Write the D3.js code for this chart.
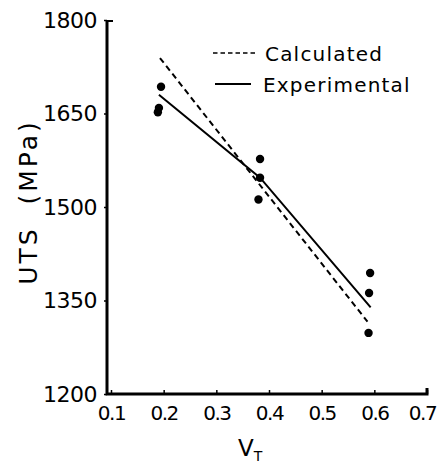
<!DOCTYPE html>
<html>
<head>
<meta charset="utf-8">
<script src="https://cdn.jsdelivr.net/npm/d3@7"></script>
<style>
  body { margin: 0; background: #fff; }
  text { font-family: "DejaVu Sans", sans-serif; fill: #000; }
</style>
</head>
<body>
<div id="main"></div>
<script>
//////////
// DATA //
//////////

const x_ticks = [0.1, 0.2, 0.3, 0.4, 0.5, 0.6, 0.7]
const x_tick_labels = ["0.1", "0.2", "0.3", "0.4", "0.5", "0.6", "0.7"]
const y_ticks = [1200, 1350, 1500, 1650, 1800]

// measured points
const vt_points  = [0.195, 0.189, 0.191, 0.383, 0.383, 0.380, 0.592, 0.590, 0.589]
const uts_points = [1693, 1652, 1659, 1577, 1547, 1512, 1394, 1362, 1298]

// calculated line (straight) and experimental line (through the mean of each group)
const calc_vt  = [0.193, 0.587]
const calc_uts = [1739, 1316]
const exp_vt   = [0.191, 0.383, 0.593]
const exp_uts  = [1680, 1547, 1339]

const legend_labels = ["Calculated", "Experimental"]


///////////
// SETUP //
///////////

const width = 438
const height = 466

const x = d3.scaleLinear().domain([0.1, 0.7]).range([111, 427])
const y = d3.scaleLinear().domain([1200, 1800]).range([394, 20])

const line = d3.line()
    .x(d => x(d[0]))
    .y(d => y(d[1]))

const svg = d3.select("#main").append("svg")
    .attr("width", width)
    .attr("height", height)


//////////
// DRAW //
//////////

// frame
svg.append("path")
    .attr("d", `M${x(0.1) - 4},${y(1800)}V${y(1200)}H${x(0.7)}V${y(1200) - 6}`)
    .attr("fill", "none")
    .attr("stroke", "#000")
    .attr("stroke-width", 3)

svg.append("line")
    .attr("x1", x(0.1) - 4).attr("x2", x(0.1) + 2)
    .attr("y1", y(1800) + 1).attr("y2", y(1800) + 1)
    .attr("stroke", "#000").attr("stroke-width", 2)

// x axis
const x_axis = svg.append("g")
    .attr("transform", `translate(0,${y(1200)})`)
    .call(d3.axisBottom(x)
        .tickValues(x_ticks)
        .tickFormat((d, i) => x_tick_labels[i])
        .tickSizeInner(-4)
        .tickSizeOuter(0)
        .tickPadding(12))
x_axis.select(".domain").remove()
x_axis.selectAll("line").attr("stroke-width", 1.5)
x_axis.selectAll("text")
    .style("font-size", "20px")
    .style("letter-spacing", "-1.5px")
    .attr("dx", d => d === 0.7 ? -5 : 0)

// y axis
const y_axis = svg.append("g")
    .attr("transform", `translate(${x(0.1) - 4},0)`)
    .call(d3.axisLeft(y)
        .tickValues(y_ticks)
        .tickFormat(d3.format("d"))
        .tickSizeInner(3)
        .tickSizeOuter(0)
        .tickPadding(7))
y_axis.select(".domain").remove()
y_axis.selectAll("line").attr("stroke-width", 1.5)
y_axis.selectAll("text")
    .style("font-size", "22px")
    .style("letter-spacing", "-0.5px")

// axis titles
svg.append("text")
    .attr("transform", `translate(37,${(y(1800) + y(1200)) / 2 - 5}) rotate(-90)`)
    .attr("text-anchor", "middle")
    .style("font-size", "25px")
    .style("letter-spacing", "3px")
    .style("white-space", "pre")
    .text("UTS  (MPa)")

const vt = svg.append("text")
    .attr("x", 238)
    .attr("y", 456)
    .style("font-size", "23px")
vt.append("tspan").text("V")
vt.append("tspan")
    .attr("dx", 0)
    .attr("dy", 5)
    .style("font-size", "14px")
    .text("T")

// fitted lines
svg.append("path")
    .datum(d3.zip(calc_vt, calc_uts))
    .attr("d", line)
    .attr("fill", "none")
    .attr("stroke", "#000")
    .attr("stroke-width", 2)
    .attr("stroke-dasharray", "6,4")

svg.append("path")
    .datum(d3.zip(exp_vt, exp_uts))
    .attr("d", line)
    .attr("fill", "none")
    .attr("stroke", "#000")
    .attr("stroke-width", 2)

// points
svg.selectAll("circle.pt")
    .data(d3.zip(vt_points, uts_points))
    .enter().append("circle")
        .attr("class", "pt")
        .attr("cx", d => x(d[0]))
        .attr("cy", d => y(d[1]))
        .attr("r", 4.2)
        .attr("fill", "#000")

// legend
const legend = svg.append("g")
legend.append("line")
    .attr("x1", 213).attr("x2", 257)
    .attr("y1", 53).attr("y2", 53)
    .attr("stroke", "#000").attr("stroke-width", 1.5)
    .attr("stroke-dasharray", "4.5,3")
legend.append("line")
    .attr("x1", 215).attr("x2", 251)
    .attr("y1", 84).attr("y2", 84)
    .attr("stroke", "#000").attr("stroke-width", 2)
legend.selectAll("text")
    .data(legend_labels)
    .enter().append("text")
        .attr("x", (d, i) => i ? 263 : 265)
        .attr("y", (d, i) => i ? 92 : 61)
        .style("font-size", "20px")
        .style("letter-spacing", "1.2px")
        .text(d => d)
</script>
</body>
</html>
